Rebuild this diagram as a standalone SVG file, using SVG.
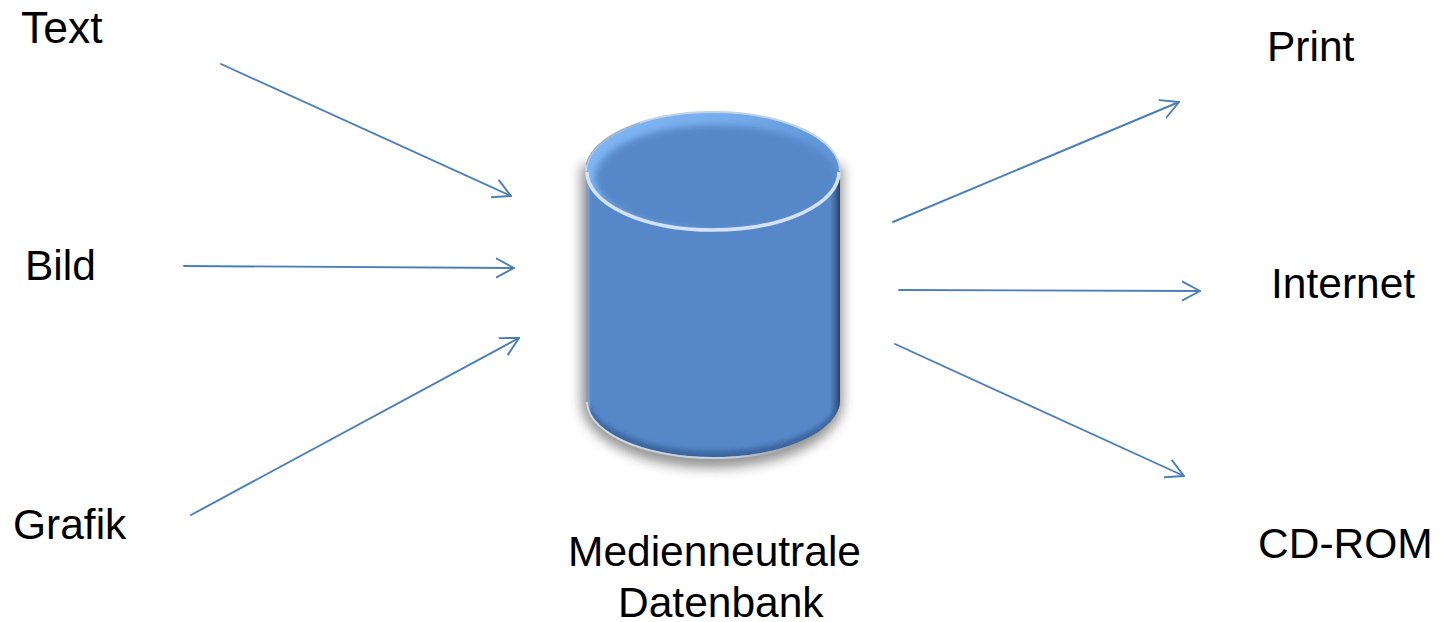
<svg xmlns="http://www.w3.org/2000/svg" width="1441" height="622" viewBox="0 0 1441 622">
<style>
text{font-family:"Liberation Sans",Arial,sans-serif;font-size:42.5px;fill:#000}
.c{fill:none;stroke:#4a7ebb;stroke-width:1.9;stroke-linecap:round;stroke-linejoin:round}
</style>
<defs>
<marker id="a" markerUnits="userSpaceOnUse" markerWidth="22" markerHeight="24" refX="18" refY="12" orient="auto" viewBox="0 0 22 24"><path d="M0.4 2.6 L18 12 L0.4 21.4" fill="none" stroke="#4a7ebb" stroke-width="1.9" stroke-linecap="round" stroke-linejoin="round"/></marker>
<path id="body" d="M586 171 L586 400 A127 57 0 0 0 840 400 L840 171 Z"/>
<clipPath id="bc"><use href="#body"/></clipPath>
<clipPath id="tc"><ellipse cx="713" cy="171" rx="127" ry="59"/></clipPath>
<linearGradient id="side" x1="0" x2="1" y1="0" y2="0">
<stop offset="0" stop-color="#8d9cb0"/><stop offset=".012" stop-color="#7c9cc6"/><stop offset=".022" stop-color="#5a8bcc" stop-opacity="0"/><stop offset=".96" stop-color="#3f679d" stop-opacity="0"/><stop offset=".985" stop-color="#3b6093"/><stop offset="1" stop-color="#2f3f55"/>
</linearGradient>
<linearGradient id="band" x1="0" x2="1" y1="0" y2="0">
<stop offset="0" stop-color="#7fb6f5"/><stop offset=".55" stop-color="#78aeee"/><stop offset="1" stop-color="#5f93d6"/>
</linearGradient>
<linearGradient id="rimline" gradientUnits="userSpaceOnUse" x1="586" x2="800" y1="0" y2="0">
<stop offset="0" stop-color="#d0dae6"/><stop offset=".7" stop-color="#c0ccdb"/><stop offset="1" stop-color="#b4c2d4" stop-opacity="0"/>
</linearGradient>
<filter id="blur" x="-20%" y="-20%" width="140%" height="140%"><feGaussianBlur stdDeviation="6"/></filter>
<filter id="soft" x="-5%" y="-5%" width="110%" height="110%"><feGaussianBlur stdDeviation="0.7"/></filter>
<filter id="b3" x="-10%" y="-10%" width="120%" height="120%"><feGaussianBlur stdDeviation="2.5"/></filter>
<filter id="b4" x="-10%" y="-10%" width="120%" height="120%"><feGaussianBlur stdDeviation="3.5"/></filter>
</defs>
<g id="connectors">
<path class="c" marker-end="url(#a)" d="M221 64 L511 196"/>
<path class="c" marker-end="url(#a)" d="M184 266 L514 268"/>
<path class="c" marker-end="url(#a)" d="M191 515 L519 338"/>
<path class="c" marker-end="url(#a)" d="M893 222 L1179 102"/>
<path class="c" marker-end="url(#a)" d="M899 290 L1200 291"/>
<path class="c" marker-end="url(#a)" d="M895 344 L1184 476"/>
</g>
<g id="node-db">
<path d="M581 165 L581 402 A131 66 0 0 0 843 402 L843 165 Z" fill="#555" opacity=".62" filter="url(#blur)"/>
<g filter="url(#soft)">
<use href="#body" fill="#3b659f"/>
<g clip-path="url(#bc)"><path d="M586 160 L586 394 A127 57 0 0 0 840 394 L840 160 Z" fill="#5687c9" filter="url(#b3)"/></g>
<use href="#body" fill="url(#side)"/>
<path d="M587 402 A127 57 0 0 0 800 443" fill="none" stroke="url(#rimline)" stroke-width="2"/>
<ellipse cx="713" cy="171" rx="127" ry="59" fill="url(#band)"/>
<g clip-path="url(#tc)"><ellipse cx="716" cy="178" rx="121" ry="53" fill="#5687c8" filter="url(#b4)"/></g>
<path d="M586 171 A127 59 0 0 1 840 171" fill="none" stroke="#c3d2e4" stroke-width="2"/>
<path d="M586 165 A127 59 0 0 1 640 123" fill="none" stroke="#9ba7b5" stroke-width="1.2"/>
<path d="M587 172 A126 58 0 0 0 839 172" fill="none" stroke="#d3e3f5" stroke-width="3.6"/>
</g>
</g>
<g id="node-text"><text x="21" y="43" style="font-size:44.5px">Text</text></g>
<g id="node-bild"><text x="25" y="280">Bild</text></g>
<g id="node-grafik"><text x="13" y="539">Grafik</text></g>
<g id="node-print"><text x="1267" y="61">Print</text></g>
<g id="node-internet"><text x="1271" y="298">Internet</text></g>
<g id="node-cdrom"><text x="1258" y="558">CD-ROM</text></g>
<g id="node-label"><text x="568" y="566">Medienneutrale</text><text x="618" y="617">Datenbank</text></g>
</svg>
